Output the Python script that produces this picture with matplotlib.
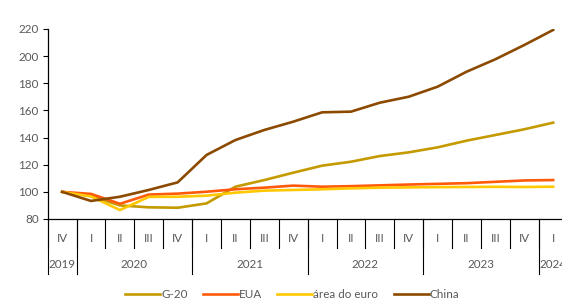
import numpy as np
import matplotlib.pyplot as plt

plt.rcParams['font.family'] = ['Lato', 'DejaVu Sans']

quarters = ['IV', 'I', 'II', 'III', 'IV', 'I', 'II', 'III', 'IV',
            'I', 'II', 'III', 'IV', 'I', 'II', 'III', 'IV', 'I']
years = ['2019', '2020', '2021', '2022', '2023', '2024']
year_spans = [(0, 0), (1, 4), (5, 8), (9, 12), (13, 16), (17, 17)]

g20 = [100, 97, 90, 88.6, 88.3, 91.5, 103.8, 108.7, 114.1, 119.3, 122.2,
       126.4, 129.1, 132.8, 137.7, 141.9, 146.1, 151]
eua = [100, 98.5, 91.2, 98, 98.7, 100.1, 101.9, 103.1, 104.6, 103.8, 104.2,
       104.8, 105.4, 105.9, 106.4, 107.4, 108.4, 108.7]
euro = [100, 96.6, 86.6, 96.3, 96.4, 97.2, 99.4, 100.9, 101.4, 101.9, 102.6,
        103.1, 103.3, 103.5, 103.6, 103.7, 103.6, 103.8]
china = [100, 93.3, 96.4, 101.4, 107, 127.2, 138.2, 145.6, 151.7, 158.6,
         159.1, 165.7, 170.1, 177.5, 188.5, 197.7, 208.2, 219.3]

series = [('G-20', g20, '#C49A00'), ('EUA', eua, '#FF5A0A'),
          ('área do euro', euro, '#FFC800'), ('China', china, '#8C4A00')]

grey = '#595959'
fs = 8.4
fig = plt.figure(figsize=(5.62, 3.03), dpi=100)
ax = fig.add_axes([47.7 / 562, 84 / 303, 519.9 / 562, 190 / 303])

x = np.arange(len(quarters))
for name, vals, col in series:
    ax.plot(x, vals, color=col, lw=1.9, label=name, solid_joinstyle='miter')

ax.set_xlim(-0.5, len(quarters) - 0.5)
ax.set_ylim(80, 220)
ax.set_yticks(np.arange(80, 221, 20))
ax.tick_params(axis='y', length=3.5, width=0.8, colors='black',
               labelcolor=grey, labelsize=fs, pad=3)
ax.set_xticks([])
for s in ['top', 'right']:
    ax.spines[s].set_visible(False)
ax.spines['left'].set_linewidth(0.9)
ax.spines['bottom'].set_linewidth(0.9)

# two-level category axis
tr = ax.get_xaxis_transform()
for i in range(len(quarters) + 1):
    ax.plot([i - 0.5, i - 0.5], [0, -0.15], transform=tr, color='black',
            lw=0.8, clip_on=False)
for q, xi in zip(quarters, x):
    ax.text(xi, -0.1, q, transform=tr, ha='center', va='center',
            fontsize=fs, color=grey, clip_on=False)
for yr, (a, b) in zip(years, year_spans):
    ax.plot([a - 0.5, a - 0.5], [0, -0.292], transform=tr, color='black',
            lw=0.8, clip_on=False)
    ax.text((a + b) / 2, -0.239, yr, transform=tr, ha='center', va='center',
            fontsize=fs, color=grey, clip_on=False)

leg = fig.legend(loc='center', bbox_to_anchor=(0.52, 0.028), ncol=4,
                 frameon=False, fontsize=fs, handlelength=3.0,
                 columnspacing=1.3, handletextpad=0.1)
for t in leg.get_texts():
    t.set_color(grey)

fig.savefig('out.png', dpi=100)
